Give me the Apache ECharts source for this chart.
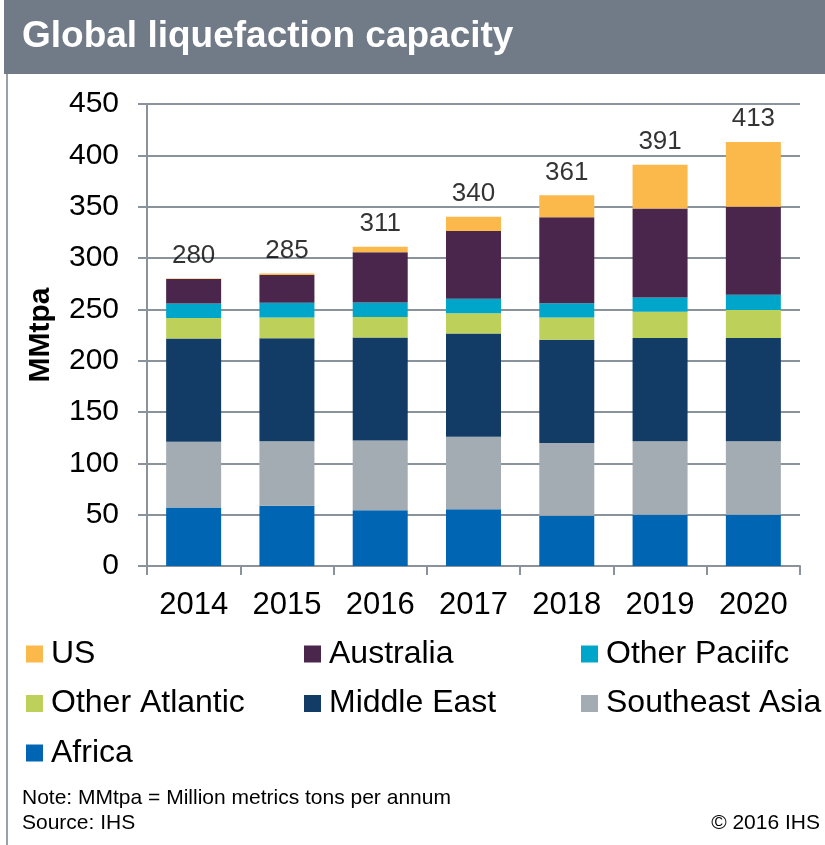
<!DOCTYPE html>
<html>
<head>
<meta charset="utf-8">
<script src="https://cdn.jsdelivr.net/npm/echarts@6/dist/echarts.min.js"></script>
<style>
html,body{margin:0;padding:0;background:#fff;}
#chart{width:825px;height:845px;}
</style>
</head>
<body>
<div id="chart"></div>
<script>
var years = ['2014','2015','2016','2017','2018','2019','2020'];
var africa        = [57, 58.6, 54.3, 55.3, 49, 50, 50];
var southeastAsia = [64, 63, 68, 70.5, 70.7, 71.4, 71.4];
var middleEast    = [100.6, 100.3, 100.3, 100.6, 100.7, 100.7, 100.7];
var otherAtlantic = [20, 20.2, 20, 19.8, 21.7, 25.6, 27.3];
var otherPacific  = [14, 14.3, 14, 14, 13.9, 13.9, 14.9];
var australia     = [24, 27, 49, 66, 83.7, 86.7, 85.7];
var us            = [0.4, 1.5, 5.4, 14, 21.4, 42.6, 63];
var totals        = [280, 285, 311, 340, 361, 391, 413];
var yTicks = [0, 50, 100, 150, 200, 250, 300, 350, 400, 450];

var colors = {
  'Africa': '#0066B3',
  'Southeast Asia': '#A2ACB2',
  'Middle East': '#123C66',
  'Other Atlantic': '#BDD15A',
  'Other Pacific': '#00A6CA',
  'Australia': '#4A254C',
  'US': '#FBB84B'
};
var displayName = {'Other Pacific': 'Other Paciifc'};

var stackData = [
  ['Africa', africa],
  ['Southeast Asia', southeastAsia],
  ['Middle East', middleEast],
  ['Other Atlantic', otherAtlantic],
  ['Other Pacific', otherPacific],
  ['Australia', australia],
  ['US', us]
];

var series = stackData.map(function (d) {
  return {
    name: d[0],
    type: 'bar',
    stack: 'total',
    data: d[1],
    barWidth: 55,
    itemStyle: { color: colors[d[0]] },
    emphasis: { disabled: true }
  };
});
series.push({
  name: 'totals',
  type: 'scatter',
  data: totals,
  symbolSize: 0,
  silent: true,
  label: {
    show: true, position: 'top', distance: 10,
    fontSize: 26, color: '#000', fontFamily: 'Liberation Sans'
  }
});

var legendFont = { fontSize: 32, color: '#000', fontFamily: 'Liberation Sans', padding: [0, 0, 0, 3] };
function mkLegend(left, names) {
  return {
    left: left, top: 638, orient: 'vertical', itemGap: 17.5,
    padding: 0,
    itemWidth: 17, itemHeight: 17, icon: 'rect',
    selectedMode: false,
    textStyle: legendFont,
    formatter: function (n) { return displayName[n] || n; },
    data: names
  };
}

var chart = echarts.init(document.getElementById('chart'), null, { renderer: 'canvas' });
chart.setOption({
  animation: false,
  backgroundColor: '#fff',
  grid: { left: 147, right: 25, top: 104, bottom: 279 },
  xAxis: {
    type: 'category',
    data: years,
    axisLine: { lineStyle: { color: '#8A929B', width: 2 } },
    axisTick: { show: true, length: 9, lineStyle: { color: '#8A929B', width: 2 } },
    axisLabel: { fontSize: 31, color: '#000', margin: 24, fontFamily: 'Liberation Sans' }
  },
  yAxis: {
    type: 'value',
    min: 0, max: 450, interval: 50,
    name: 'MMtpa',
    nameLocation: 'middle',
    nameRotate: 90,
    nameGap: 91,
    nameTextStyle: { fontSize: 30, fontWeight: 'bold', color: '#000', fontFamily: 'Liberation Sans' },
    axisLine: { show: true, lineStyle: { color: '#8A929B', width: 2 } },
    axisTick: { show: true, length: 9, lineStyle: { color: '#8A929B', width: 2 } },
    splitLine: { lineStyle: { color: '#8A929B', width: 2 } },
    axisLabel: { fontSize: 30, color: '#000', margin: 28, fontFamily: 'Liberation Sans' }
  },
  legend: [
    mkLegend(26, ['US', 'Other Atlantic', 'Africa']),
    mkLegend(304, ['Australia', 'Middle East']),
    mkLegend(581, ['Other Pacific', 'Southeast Asia'])
  ],
  series: series,
  graphic: [
    { type: 'rect', shape: { x: 4, y: 0, width: 821, height: 74 }, style: { fill: '#717B88' }, z: -1 },
    { type: 'line', shape: { x1: 7, y1: 74, x2: 7, y2: 845 }, style: { stroke: '#9AA1AA', lineWidth: 2 } },
    { type: 'text', left: 22, top: 18, style: { text: 'Global liquefaction capacity', fill: '#fff', fontSize: 37, fontWeight: 'bold', fontFamily: 'Liberation Sans' } },
    { type: 'text', left: 22, top: 788, style: { text: 'Note: MMtpa = Million metrics tons per annum', fill: '#000', fontSize: 21, fontFamily: 'Liberation Sans' } },
    { type: 'text', left: 22, top: 813, style: { text: 'Source: IHS', fill: '#000', fontSize: 21, fontFamily: 'Liberation Sans' } },
    { type: 'text', right: 5, top: 813, style: { text: '\u00A9 2016 IHS', fill: '#000', fontSize: 21, fontFamily: 'Liberation Sans' } }
  ]
});
</script>
</body>
</html>
